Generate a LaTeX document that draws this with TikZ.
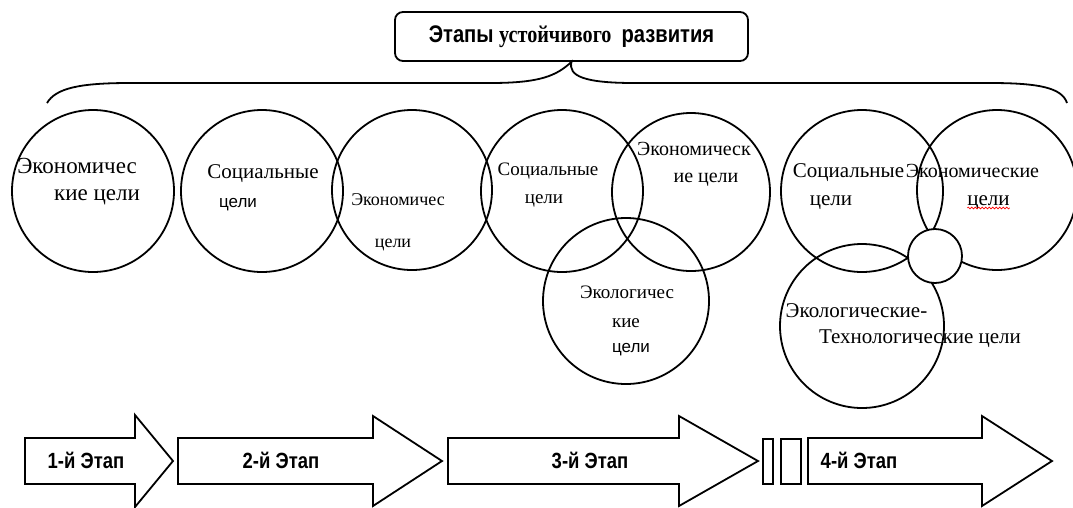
\documentclass[tikz,border=0pt]{standalone}
\usepackage{fontspec}
\setmainfont{Liberation Serif}
\newfontfamily\narrowsans{Liberation Sans}[FakeStretch=0.84]
\newfontfamily\narrowserif{Liberation Serif}[FakeStretch=0.84]
\newfontfamily\plainsans{Liberation Sans}
\usepackage{tikz}
\usetikzlibrary{decorations.pathmorphing}

\tikzset{
  goal/.style={draw, circle, line width=1.8pt, inner sep=0pt},
  goaltext/.style={anchor=base, inner sep=0pt, font=\fontsize{20}{24}\selectfont},
  stage/.style={draw, line width=1.8pt, line join=miter},
  stagetext/.style={anchor=base, inner sep=0pt, font=\narrowsans\bfseries\fontsize{22}{26}\selectfont},
}

\begin{document}
\begin{tikzpicture}[x=1pt, y=-1pt]
  \useasboundingbox (0,0) rectangle (1073,507);

  % title and brace
  \node[draw, line width=1.8pt, rounded corners=8pt, minimum width=353pt, minimum height=49pt, inner sep=0pt] (title) at (571.5,36.5)
       {\fontsize{24}{28}\selectfont\narrowsans\bfseries Этапы \narrowserif устойчивого\ \ \narrowsans развития};
  \draw[line width=1.8pt] (47,103) .. controls (56,88) and (80,83) .. (130,83) -- (490,83)
       .. controls (540,83) and (556,76) .. (title.south)
       .. controls (568,76) and (584,83) .. (634,83) -- (990,83)
       .. controls (1040,83) and (1062,88) .. (1067,103);

  % stage 1
  \node[goal, minimum size=162pt] (ecoA) at (93,191) {};
  \node[goaltext, font=\fontsize{23}{26}\selectfont] (ecoAa) at (77,173) {Экономичес};
  \node[goaltext, font=\fontsize{23}{26}\selectfont] (ecoAb) at (97,200) {кие цели};

  % stage 2
  \node[goal, minimum size=162pt] (socB) at (262,191) {};
  \node[goal, minimum size=160pt] (ecoB) at (412,190) {};
  \node[goaltext, font=\fontsize{21}{24}\selectfont] (socBa) at (263,178) {Социальные};
  \node[goaltext, font=\plainsans\fontsize{17}{20}\selectfont] (socBb) at (238,207) {цели};
  \node[goaltext, font=\fontsize{18}{22}\selectfont] (ecoBa) at (398,205) {Экономичес};
  \node[goaltext, font=\fontsize{18}{22}\selectfont] (ecoBb) at (393,247) {цели};

  % stage 3
  \node[goal, minimum size=162pt] (socC) at (562,191) {};
  \node[goal, minimum size=158pt] (ecoC) at (691,192) {};
  \node[goal, minimum size=166pt] (envC) at (626,301) {};
  \node[goaltext, font=\fontsize{19}{22}\selectfont] (socCa) at (548,175) {Социальные};
  \node[goaltext, font=\fontsize{19}{22}\selectfont] (socCb) at (544,203) {цели};
  \node[goaltext] (ecoCa) at (694,155) {Экономическ};
  \node[goaltext] (ecoCb) at (706,182) {ие цели};
  \node[goaltext, font=\fontsize{19}{22}\selectfont] (envCa) at (627,298) {Экологичес};
  \node[goaltext, font=\fontsize{19}{22}\selectfont] (envCb) at (626,327) {кие};
  \node[goaltext, font=\plainsans\fontsize{17}{20}\selectfont] (envCc) at (631,352) {цели};

  % stage 4
  \node[goal, minimum size=162pt] (socD) at (862,191) {};
  \node[goal, minimum size=160pt] (ecoD) at (997,190) {};
  \node[goal, minimum size=164pt] (envD) at (862,326) {};
  \node[goal, fill=white, minimum size=54pt] (core) at (935,256) {};
  \node[goaltext, font=\fontsize{21}{24}\selectfont] (socDa) at (848.5,177) {Социальные};
  \node[goaltext, font=\fontsize{21}{24}\selectfont] (socDb) at (831,205) {цели};
  \node[goaltext] (ecoDa) at (972.5,177) {Экономические};
  \node[goaltext, font=\fontsize{21}{24}\selectfont] (ecoDb) at (988.5,205) {цели};
  \draw[red, line width=0.6pt, decorate, decoration={snake, amplitude=0.9pt, segment length=3.5pt}]
       ([yshift=-3pt]ecoDb.base west) -- ([yshift=-3pt]ecoDb.base east);
  \node[goaltext, font=\fontsize{21}{24}\selectfont] (envDa) at (856.5,317) {Экологические-};
  \node[goaltext, font=\fontsize{21}{24}\selectfont] (envDb) at (920,343) {Технологические цели};

  % stage arrows
  \draw[stage] (25,438) -- (135,438) -- (135,415) -- (173,461) -- (135,507) -- (135,484) -- (25,484) -- cycle;
  \draw[stage] (178,438) -- (373,438) -- (373,416) -- (442,461) -- (373,506) -- (373,484) -- (178,484) -- cycle;
  \draw[stage] (448,438) -- (679,438) -- (679,416) -- (758,461) -- (679,506) -- (679,484) -- (448,484) -- cycle;
  \draw[stage] (763,439) rectangle (773,484);
  \draw[stage] (781,439) rectangle (801,484);
  \draw[stage] (808,438) -- (982,438) -- (982,416) -- (1052,461) -- (982,506) -- (982,484) -- (808,484) -- cycle;
  \node[stagetext] (stageA) at (86,468) {1-й Этап};
  \node[stagetext] (stageB) at (281,468) {2-й Этап};
  \node[stagetext] (stageC) at (590,468) {3-й Этап};
  \node[stagetext] (stageD) at (859,468) {4-й\ Этап};
\end{tikzpicture}
\end{document}
